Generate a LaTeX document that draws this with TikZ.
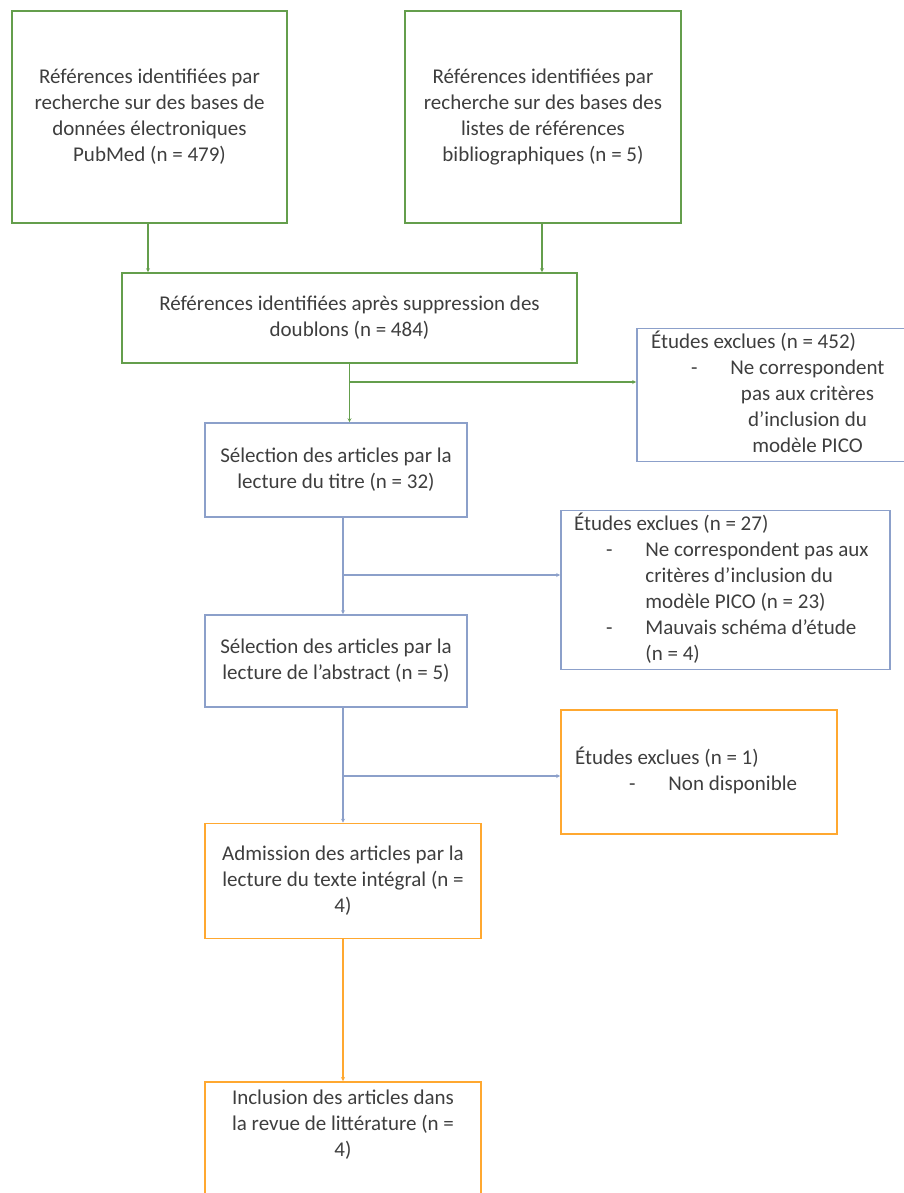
\documentclass[tikz,border=0pt]{standalone}
\usepackage{fontspec}
\setmainfont{Carlito}
\usepackage{xcolor}
\usetikzlibrary{arrows.meta, positioning}
\definecolor{prisgreen}{RGB}{100,158,76}
\definecolor{prisblue}{RGB}{140,160,202}
\definecolor{prisorange}{RGB}{255,168,48}
\definecolor{prisgray}{RGB}{62,62,62}
\newcommand{\boxlines}[1]{\begin{tabular}{@{}c@{}}#1\end{tabular}}
\newcommand{\excllines}[2]{\makebox[#1][l]{\begin{tabular}{@{}l@{}}#2\end{tabular}}}

\begin{document}
\begin{tikzpicture}[x=1pt,y=-1pt,font=\fontsize{21}{26}\selectfont,text=prisgray]
    \tikzset{
        box/.style={rectangle, draw, line width=1.6pt, inner sep=0pt},
        green box/.style={box, draw=prisgreen},
        blue box/.style={box, draw=prisblue},
        orange box/.style={box, draw=prisorange},
        flow/.style={line width=1.3pt, -{Stealth[length=4pt,width=4pt]}},
        green line/.style={flow, draw=prisgreen},
        blue line/.style={flow, draw=prisblue},
        orange line/.style={flow, draw=prisorange}
      }
\useasboundingbox (0,0) rectangle (903,1193);

% identification
\node[green box, minimum width=275pt, minimum height=212pt] (pubmed) at (149.5,117)
    {\boxlines{Références identifiées par\\recherche sur des bases de\\données électroniques\\PubMed (n = 479)}};
\node[green box, minimum width=276pt, minimum height=212pt] (biblio) at (543,117)
    {\boxlines{Références identifiées par\\recherche sur des bases des\\listes de références\\bibliographiques (n = 5)}};
\node[green box, minimum width=455pt, minimum height=90pt] (dedup) at (349.5,318)
    {\boxlines{Références identifiées après suppression des\\doublons (n = 484)}};

% selection
\node[blue box, minimum width=262pt, minimum height=94pt] (title) at (336,470)
    {\boxlines{Sélection des articles par la\\lecture du titre (n = 32)}};
\node[blue box, minimum width=268pt, minimum height=133pt, inner xsep=14pt] (excl1) at (771,395)
    {\excllines{240pt}{Études exclues (n = 452)\\
     \hspace*{40pt}-\hspace*{33pt}\begin{tabular}[t]{@{}c@{}}Ne correspondent\\pas aux critères\\d’inclusion du\\modèle PICO\end{tabular}}};
\node[blue box, minimum width=262pt, minimum height=92pt] (abstract) at (336,661)
    {\boxlines{Sélection des articles par la\\lecture de l’abstract (n = 5)}};
\node[blue box, minimum width=329pt, minimum height=159pt, inner xsep=13pt] (excl2) at (725.5,590)
    {\excllines{303pt}{Études exclues (n = 27)\\
     \hspace*{32pt}-\hspace*{33pt}\begin{tabular}[t]{@{}l@{}}Ne correspondent pas aux\\critères d’inclusion du\\modèle PICO (n = 23)\end{tabular}\\
     \hspace*{32pt}-\hspace*{33pt}\begin{tabular}[t]{@{}l@{}}Mauvais schéma d’étude\\(n = 4)\end{tabular}}};

% eligibility and inclusion
\node[orange box, minimum width=276pt, minimum height=124pt, inner xsep=14pt] (excl3) at (699,772)
    {\excllines{248pt}{Études exclues (n = 1)\\
     \hspace*{54pt}-\hspace*{33pt}Non disponible}};
\node[orange box, minimum width=276pt, minimum height=115pt] (fulltext) at (343,881)
    {\boxlines{Admission des articles par la\\lecture du texte intégral (n =\\4)}};
\node[orange box, anchor=north, minimum width=276pt, inner ysep=4pt, text depth=100pt] (incl) at (343,1081)
    {\boxlines{Inclusion des articles dans\\la revue de littérature (n =\\4)}};

% connectors
\coordinate (split1) at (349.5,382);
\coordinate (split2) at (343,575);
\coordinate (split3) at (343,776);
\draw[green line] ([xshift=-1.5pt]pubmed.south) -- ([xshift=-1.5pt]pubmed.south |- dedup.north);
\draw[green line] ([xshift=-1pt]biblio.south) -- ([xshift=-1pt]biblio.south |- dedup.north);
\draw[green line] (dedup.south) -- (dedup.south |- title.north);
\draw[green line] (split1) -- (split1 -| excl1.west);
\draw[blue line] (split2 |- title.south) -- (split2 |- abstract.north);
\draw[blue line] (split2) -- (split2 -| excl2.west);
\draw[blue line] (split3 |- abstract.south) -- (fulltext.north);
\draw[blue line] (split3) -- (split3 -| excl3.west);
\draw[orange line] (fulltext.south) -- (incl.north);
\end{tikzpicture}
\end{document}
